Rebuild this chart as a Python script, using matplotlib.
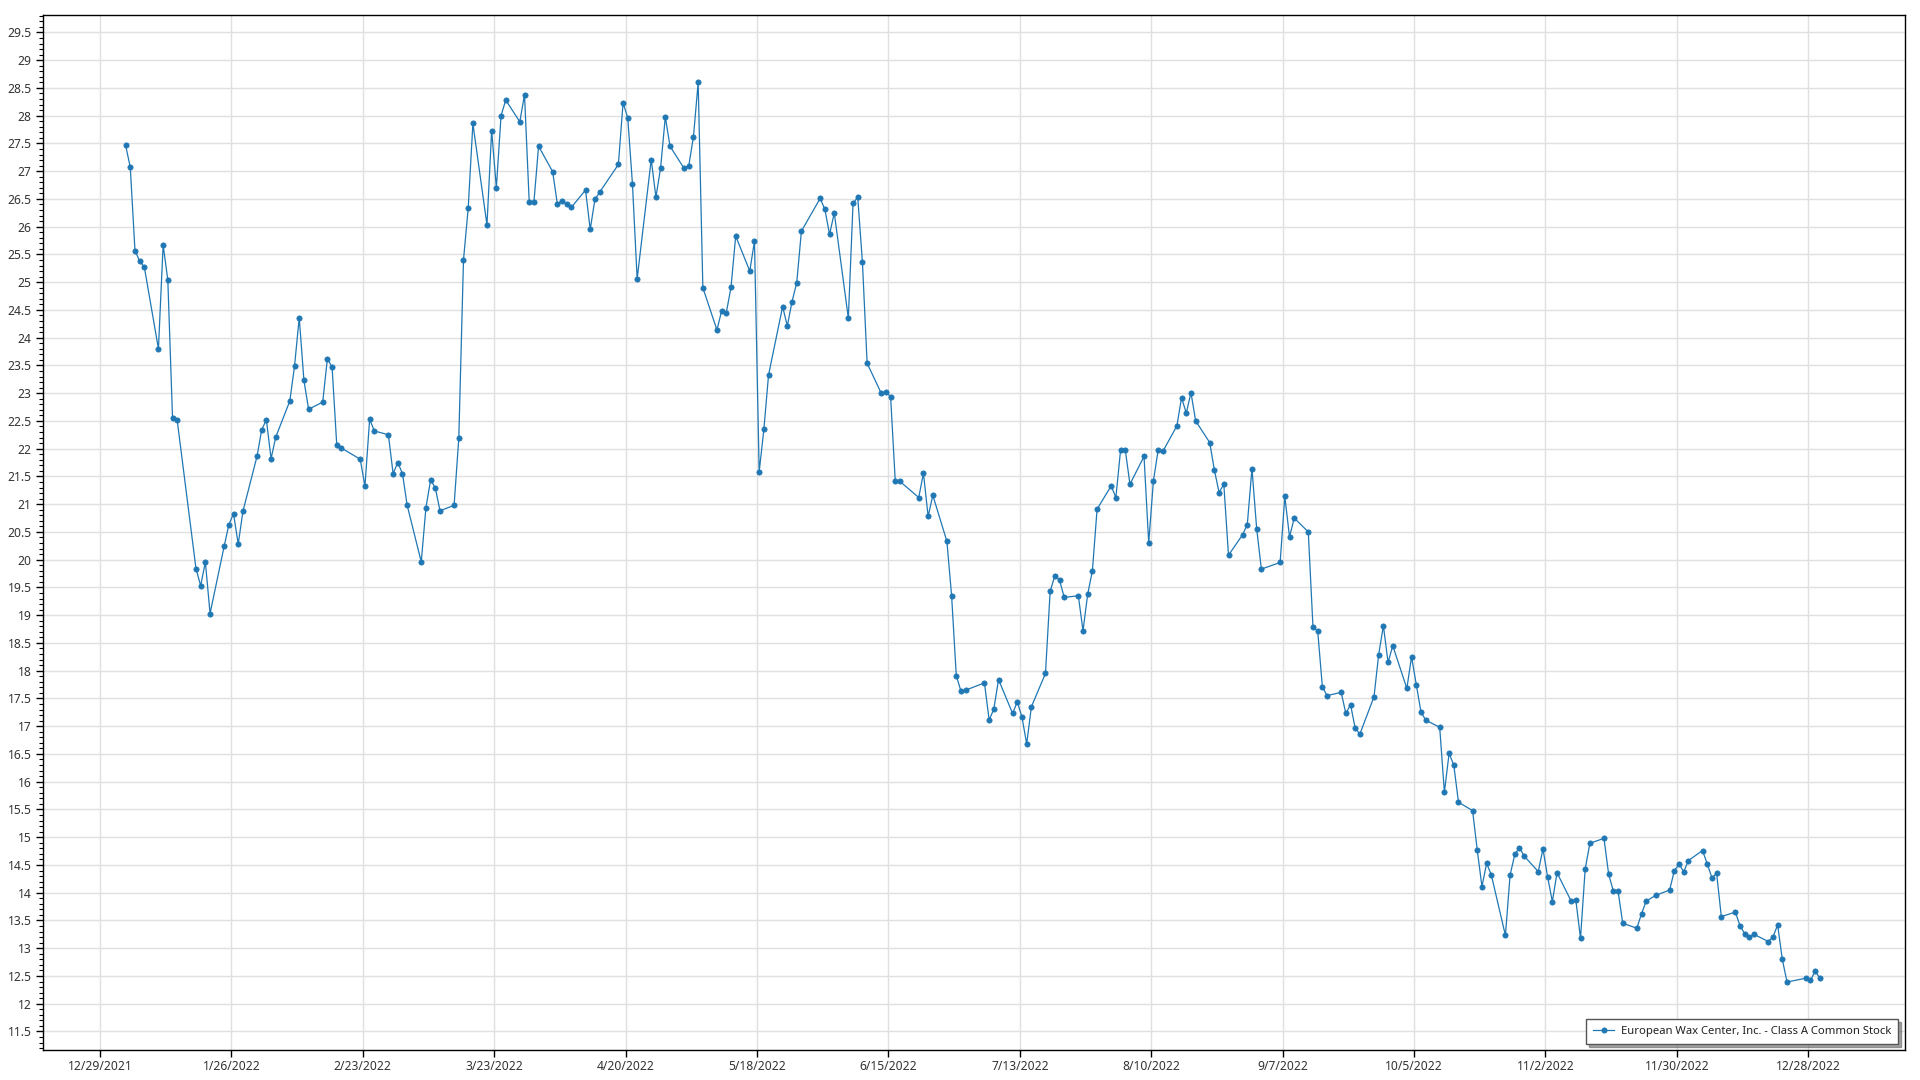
import matplotlib
matplotlib.use("Agg")
import matplotlib.pyplot as plt
import matplotlib.ticker as mticker
import matplotlib.dates as mdates
import pandas as pd
import numpy as np

plt.rcParams['font.family'] = ['Noto Sans', 'DejaVu Sans']

# ---- data (daily closes, 2022) ----
series_name = "European Wax Center, Inc. - Class A Common Stock"
market_holidays = ['2022-01-17', '2022-02-21', '2022-04-15', '2022-05-30', '2022-06-20',
                   '2022-07-04', '2022-09-05', '2022-11-24', '2022-12-26']
jan = [27.47, 27.07, 25.57, 25.38, 25.27, 23.80, 25.67, 25.04, 22.56, 22.51, 19.84, 19.53,
       19.96, 19.03, 20.24, 20.63, 20.83, 20.28, 20.87, 21.86]
feb = [22.34, 22.52, 21.82, 22.21, 22.86, 23.49, 24.36, 23.23, 22.71, 22.84, 23.62, 23.47,
       22.06, 22.01, 21.81, 21.32, 22.53, 22.32, 22.25]
mar = [21.55, 21.75, 21.55, 20.98, 19.96, 20.94, 21.44, 21.29, 20.88, 20.98, 22.19, 25.40,
       26.33, 27.86, 26.03, 27.73, 26.70, 28.00, 28.28, 27.89, 28.38, 26.45, 26.44]
apr = [27.45, 26.99, 26.41, 26.47, 26.40, 26.35, 26.66, 25.95, 26.49, 26.62, 27.12, 28.23,
       27.96, 26.77, 25.06, 27.21, 26.53, 27.06, 27.98, 27.45]
may = [27.05, 27.10, 27.62, 28.60, 24.90, 24.14, 24.48, 24.45, 24.91, 25.83, 25.20, 25.74,
       21.58, 22.35, 23.33, 24.56, 24.21, 24.65, 24.99, 25.92, 26.51]
jun = [26.31, 25.86, 26.25, 24.35, 26.42, 26.53, 25.36, 23.54, 23.00, 23.02, 22.94, 21.41,
       21.41, 21.12, 21.56, 20.78, 21.16, 20.33, 19.35, 17.91, 17.63]
jul = [17.65, 17.78, 17.11, 17.31, 17.84, 17.23, 17.44, 17.16, 16.68, 17.35, 17.95, 19.43,
       19.71, 19.63, 19.32, 19.35, 18.72, 19.38, 19.80, 20.91]
aug = [21.33, 21.12, 21.97, 21.98, 21.36, 21.86, 20.30, 21.42, 21.97, 21.95, 22.41, 22.92,
       22.64, 23.01, 22.50, 22.11, 21.61, 21.21, 21.36, 20.08, 20.45, 20.63, 21.64]
sep = [20.56, 19.83, 19.95, 21.14, 20.41, 20.75, 20.50, 18.78, 18.72, 17.71, 17.55, 17.61,
       17.23, 17.39, 16.96, 16.86, 17.53, 18.29, 18.81, 18.15, 18.45]
octo = [17.68, 18.25, 17.75, 17.26, 17.11, 16.98, 15.81, 16.51, 16.30, 15.63, 15.48, 14.77,
        14.11, 14.53, 14.32, 13.23, 14.32, 14.69, 14.81, 14.66, 14.38]
nov = [14.79, 14.28, 13.84, 14.36, 13.85, 13.87, 13.18, 14.43, 14.89, 14.98, 14.33, 14.03,
       14.03, 13.45, 13.36, 13.62, 13.85, 13.95, 14.05, 14.40, 14.51]
dec = [14.38, 14.58, 14.76, 14.52, 14.27, 14.35, 13.57, 13.65, 13.40, 13.26, 13.20, 13.25,
       13.12, 13.20, 13.42, 12.80, 12.39, 12.46, 12.42, 12.59, 12.46]
tick_dates = ['2021-12-29', '2022-01-26', '2022-02-23', '2022-03-23', '2022-04-20', '2022-05-18',
              '2022-06-15', '2022-07-13', '2022-08-10', '2022-09-07', '2022-10-05', '2022-11-02',
              '2022-11-30', '2022-12-28']

prices = jan + feb + mar + apr + may + jun + jul + aug + sep + octo + nov + dec
dates = pd.bdate_range('2022-01-03', '2022-12-30', freq='C', holidays=market_holidays)
dates = dates + pd.Timedelta(hours=11)
n = min(len(dates), len(prices))

# ---- figure ----
fig = plt.figure(figsize=(19.2, 10.8), dpi=100)
ax = fig.add_axes([0.02224, 0.02778, 0.96995, 0.95815])

blue = '#1f77b4'
ax.plot(dates[:n], prices[:n], color=blue, lw=0.9, marker='o', ms=3.8,
        mfc=blue, mec=blue, mew=0.5, label=series_name, zorder=3)

base = pd.Timestamp('2021-12-29')
ax.set_xlim(base - pd.Timedelta(days=12.2), base + pd.Timedelta(days=384.6))
ax.set_ylim(11.166, 29.81)

ticks = pd.to_datetime(tick_dates)
ax.xaxis.set_major_locator(mticker.FixedLocator(mdates.date2num(ticks)))
ax.xaxis.set_major_formatter(mticker.FuncFormatter(
    lambda x, p: (lambda d: f"{d.month}/{d.day}/{d.year}")(mdates.num2date(x))))
ax.yaxis.set_major_locator(mticker.MultipleLocator(0.5))
ax.yaxis.set_minor_locator(mticker.MultipleLocator(0.1))
ax.yaxis.set_major_formatter(mticker.FuncFormatter(lambda v, p: f"{v:g}"))

ax.grid(True, which='major', color='#e0e0e0', lw=1.0, zorder=0)
ax.set_axisbelow(True)

for s in ax.spines.values():
    s.set_color('black')
    s.set_linewidth(1.0)

ax.tick_params(axis='both', which='major', direction='out', length=5, width=1,
               color='black', labelsize=8.7, labelcolor='#333333')
ax.tick_params(axis='y', which='major', pad=3)
ax.tick_params(axis='x', which='major', pad=2.5)
ax.tick_params(axis='y', which='minor', direction='out', length=3, width=0.8, color='black')

leg = ax.legend(loc='lower right', bbox_to_anchor=(0.9963, 0.0058), borderaxespad=0,
                frameon=True, fancybox=False, shadow=True, framealpha=1,
                edgecolor='#555555', fontsize=8.1, handlelength=1.9, borderpad=0.6,
                handletextpad=0.6)
leg.get_frame().set_linewidth(1.0)
for t in leg.get_texts():
    t.set_color('#222222')

fig.savefig('out.png', dpi=100)
